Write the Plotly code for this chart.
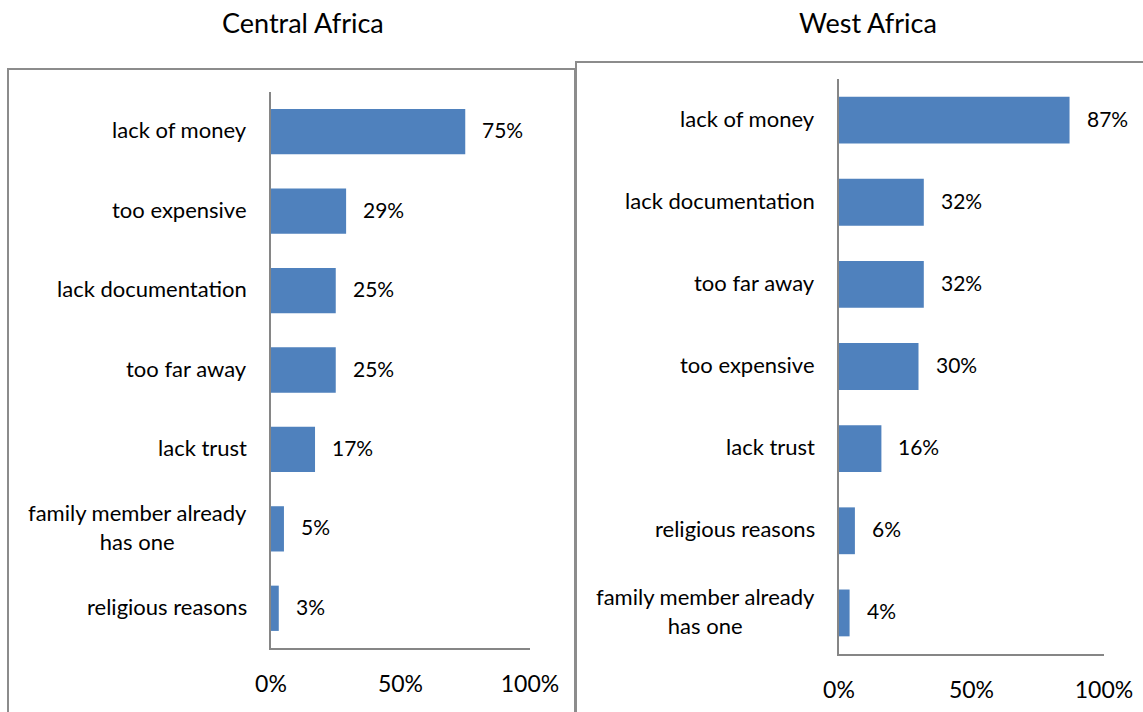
import plotly.graph_objects as go

# Reasons for not having an ID, share of respondents
central_reasons = ["lack of money", "too expensive", "lack documentation", "too far away",
                   "lack trust", "family member already<br>has one", "religious reasons"]
central_values = [75, 29, 25, 25, 17, 5, 3]

west_reasons = ["lack of money", "lack documentation", "too far away", "too expensive",
                "lack trust", "religious reasons", "family member already<br>has one"]
west_values = [87, 32, 32, 30, 16, 6, 4]

x_ticks = [0, 50, 100]
x_tick_labels = ["0%", "50%", "100%"]

W, H = 1143, 712
BAR = "#4F81BD"
FRAME = "#8C8C8C"
AXIS = "#868686"
FONT = "Lato"

def px(x):
    return x / W

def py(y):
    return 1 - y / H

fig = go.Figure()

panels = [
    dict(name="Central Africa", cats=central_reasons, vals=central_values,
         xa="x", ya="y", xdom=(271, 530), ydom=(648, 92), box=(8, 69, 575), title_x=303),
    dict(name="West Africa", cats=west_reasons, vals=west_values,
         xa="x2", ya="y2", xdom=(839, 1104), ydom=(654, 79), box=(576, 62, 1160), title_x=868),
]

annotations = []
shapes = []
for i, p in enumerate(panels):
    fig.add_trace(go.Bar(
        x=p["vals"], y=p["cats"], orientation="h",
        marker=dict(color=BAR, line=dict(width=0)),
        xaxis=p["xa"], yaxis=p["ya"], showlegend=False, hoverinfo="skip",
    ))
    # value labels to the right of each bar
    for c, v in zip(p["cats"], p["vals"]):
        annotations.append(dict(
            x=v, y=c, xref=p["xa"], yref=p["ya"], text=f"{v}%",
            showarrow=False, xanchor="left", xshift=15, yshift=2,
            font=dict(family=FONT, size=21, color="#000"),
        ))
    # category labels, centred multi-line text right-aligned to the axis
    for c in p["cats"]:
        annotations.append(dict(
            x=px(p["xdom"][0] - 22), y=c, xref="paper", yref=p["ya"], text=c,
            showarrow=False, xanchor="right", align="center", yshift=2,
            font=dict(family=FONT, size=22, color="#000"),
        ))
    # panel title
    annotations.append(dict(
        x=px(p["title_x"]), y=py(22), xref="paper", yref="paper", text=p["name"],
        showarrow=False, xanchor="center", yanchor="middle",
        font=dict(family=FONT, size=27, color="#000"),
    ))
    # frame around each panel
    bx0, by0, bx1 = p["box"]
    shapes.append(dict(
        type="rect", xref="paper", yref="paper",
        x0=px(bx0), x1=px(bx1), y0=py(740), y1=py(by0),
        line=dict(color=FRAME, width=2), fillcolor="rgba(0,0,0,0)", layer="below",
    ))

    n = len(p["cats"])
    xkey = "xaxis" if i == 0 else "xaxis2"
    ykey = "yaxis" if i == 0 else "yaxis2"
    fig.update_layout(**{
        xkey: dict(
            domain=[px(p["xdom"][0]), px(p["xdom"][1])], anchor=p["ya"],
            range=[0, 100], tickvals=x_ticks, ticktext=x_tick_labels,
            showgrid=False, zeroline=False, showline=True, linecolor=AXIS, linewidth=2,
            ticks="", ticklabelstandoff=14, automargin=False,
            tickfont=dict(family=FONT, size=23, color="#000"),
        ),
        ykey: dict(
            domain=[py(p["ydom"][0]), py(p["ydom"][1])], anchor=p["xa"],
            categoryorder="array", categoryarray=p["cats"],
            range=[n - 0.5, -0.5], showticklabels=False, automargin=False,
            showgrid=False, zeroline=False, showline=True, linecolor=AXIS, linewidth=2,
            ticks="",
        ),
    })

fig.update_layout(
    width=W, height=H, margin=dict(l=0, r=0, t=0, b=0, autoexpand=False),
    paper_bgcolor="white", plot_bgcolor="white",
    bargap=0.43, annotations=annotations, shapes=shapes,
    font=dict(family=FONT, color="#000"),
)

fig.write_html("out.html")
